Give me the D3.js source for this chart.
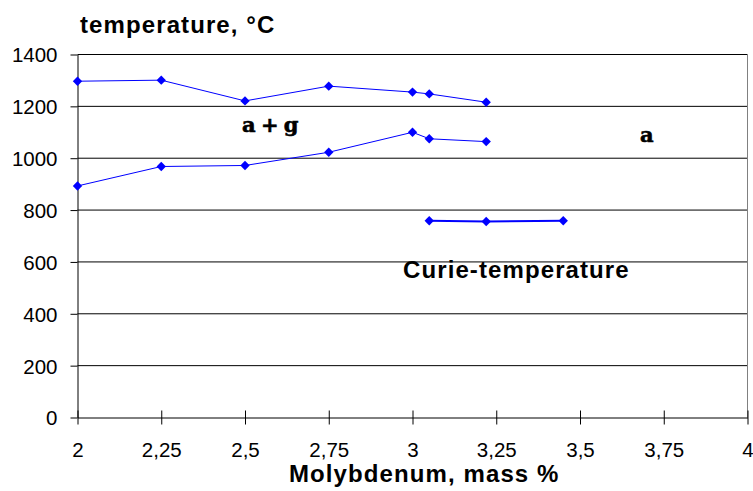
<!DOCTYPE html>
<html>
<head>
<meta charset="utf-8">
<script src="https://cdn.jsdelivr.net/npm/d3@7"></script>
<style>
  body { margin: 0; background: #fff; }
  svg { display: block; font-family: "Liberation Sans", Arial, sans-serif; }
</style>
</head>
<body>
<div id="chart"></div>
<script>
"use strict";

// Molybdenum content (mass %) and temperatures
const upperMo = [2, 2.25, 2.5, 2.75, 3, 3.05, 3.22];
const upperTemp = [1297, 1301, 1221, 1278, 1255, 1248, 1216];
const lowerMo = [2, 2.25, 2.5, 2.75, 3, 3.05, 3.22];
const lowerTemp = [893, 968, 972, 1023, 1100, 1075, 1064];
const curieMo = [3.05, 3.22, 3.45];
const curieTemp = [759, 756, 759];

const xTicks = [2, 2.25, 2.5, 2.75, 3, 3.25, 3.5, 3.75, 4];
const yTicks = [0, 200, 400, 600, 800, 1000, 1200, 1400];

const width = 753, height = 491;

const svg = d3.select("#chart").append("svg")
    .attr("width", width)
    .attr("height", height);

const x = d3.scaleLinear().domain([2, 4]).range([77.5, 747.5]);
const y = d3.scaleLinear().domain([0, 1400]).range([417.5, 54.5]);

// horizontal grid lines
svg.append("g")
    .selectAll("line")
    .data(yTicks.filter(d => d > 0))
    .join("line")
    .attr("x1", x(2)).attr("x2", x(4))
    .attr("y1", d => y(d)).attr("y2", d => y(d))
    .attr("stroke", "#000").attr("stroke-width", 1);

// right border of plot area
svg.append("line")
    .attr("x1", x(4)).attr("x2", x(4))
    .attr("y1", y(1400)).attr("y2", y(0))
    .attr("stroke", "#808080");

// y axis
const yAxis = svg.append("g")
    .attr("transform", `translate(${x(2)},0)`)
    .call(d3.axisLeft(y).tickValues(yTicks).tickSize(7).tickSizeOuter(0)
        .tickFormat(d => String(d)));
yAxis.select(".domain").attr("stroke", "#000");
yAxis.selectAll("text")
    .attr("x", -20)
    .attr("dy", "0.36em")
    .attr("font-size", 20.5)
    .attr("font-family", "Liberation Sans, Arial, sans-serif")
    .attr("fill", "#000");

// x axis (cross ticks)
const xAxis = svg.append("g")
    .attr("transform", `translate(0,${y(0)})`)
    .call(d3.axisBottom(x).tickValues(xTicks).tickSize(7).tickSizeOuter(0)
        .tickFormat(d => String(d).replace(".", ",")));
xAxis.select(".domain").attr("stroke", "#000");
xAxis.selectAll(".tick line").attr("y1", -7).attr("y2", 7).attr("stroke", "#000");
xAxis.selectAll("text")
    .attr("y", 39.5)
    .attr("dy", null)
    .attr("font-size", 20.5)
    .attr("font-family", "Liberation Sans, Arial, sans-serif")
    .attr("fill", "#000");

// series lines + diamond markers
const series = [
    { mo: upperMo, temp: upperTemp, w: 1 },
    { mo: lowerMo, temp: lowerTemp, w: 1 },
    { mo: curieMo, temp: curieTemp, w: 2 }
];

const line = d3.line().x(d => x(d[0])).y(d => y(d[1]));
const diamond = d3.symbol().type(d3.symbolSquare).size(44);

series.forEach(s => {
    const pts = s.mo.map((m, i) => [m, s.temp[i]]);
    svg.append("path")
        .datum(pts)
        .attr("fill", "none")
        .attr("stroke", "#0000ff")
        .attr("stroke-width", s.w)
        .attr("d", line);
    svg.append("g")
        .selectAll("path")
        .data(pts)
        .join("path")
        .attr("d", diamond)
        .attr("transform", d => `translate(${x(d[0])},${y(d[1])}) rotate(45)`)
        .attr("fill", "#0000ff");
});

// titles and annotations
const bold = (tx, ty, str) => svg.append("text")
    .attr("x", tx).attr("y", ty)
    .attr("font-size", 24).attr("font-weight", "bold")
    .attr("letter-spacing", 1.1)
    .text(str);

bold(80, 33, "temperature, °C");
bold(289, 482, "Molybdenum, mass %");
bold(403, 278, "Curie-temperature");

svg.append("text")
    .attr("x", 242).attr("y", 132)
    .attr("font-family", "DejaVu Serif, serif")
    .attr("font-size", 21).attr("font-weight", "bold")
    .attr("letter-spacing", -1)
    .attr("stroke", "#000").attr("stroke-width", 0.6)
    .text("a + g");

svg.append("text")
    .attr("x", 640).attr("y", 142)
    .attr("font-family", "DejaVu Serif, serif")
    .attr("font-size", 21).attr("font-weight", "bold")
    .attr("stroke", "#000").attr("stroke-width", 0.6)
    .text("a");
</script>
</body>
</html>
